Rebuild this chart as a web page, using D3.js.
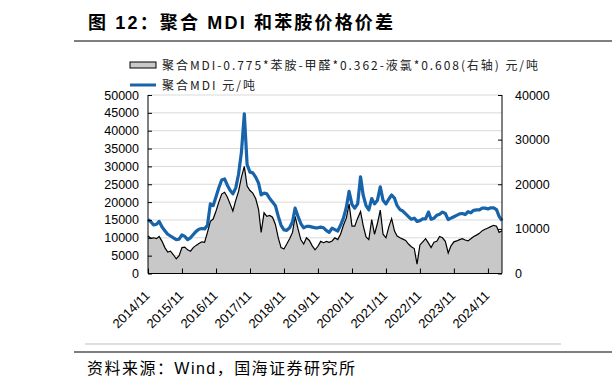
<!DOCTYPE html>
<html>
<head>
<meta charset="utf-8">
<script src="https://cdn.jsdelivr.net/npm/d3@7/dist/d3.min.js"></script>
<style>
  html, body { margin: 0; padding: 0; background: #fff; }
  svg { display: block; }
</style>
</head>
<body>
<svg id="chart" width="612" height="389"></svg>
<script>
// ---------------- DATA ----------------
const startMonth = "2014-11-01";   // first monthly observation
// 聚合MDI price, 元/吨 (left axis), monthly from 2014/11
const mdiPrice = [
  15100,14500,13600,13800,14600,13000,12000,11000,10500,10000,
  9500,9600,10800,10400,9500,10000,10900,11800,12400,12600,
  12500,13500,19500,19000,21500,24000,26200,26500,24800,23300,
  22300,24000,27800,34000,44700,30500,28400,28200,27000,25300,
  22000,22500,22300,21000,20000,19000,16000,13500,12200,12100,
  12800,14500,18300,16000,14000,12800,13200,13200,13000,12800,
  12800,13000,12800,12000,11500,12700,12300,11900,13500,15500,
  18500,23000,19300,18300,19500,27100,22000,19000,17800,21000,
  19500,20500,24300,20500,19500,20800,22000,21100,19000,17900,
  17500,16700,15900,15200,15500,14600,14800,15300,15300,17200,
  15200,15500,16300,16600,17200,16800,15100,15500,15900,16300,
  16700,16800,16500,17300,17000,17700,17800,17800,18300,18300,
  18100,18400,18400,17900,16000,14800
];
// 聚合MDI-0.775*苯胺-甲醛*0.362-液氯*0.608 spread, 元/吨 (right axis)
const spread = [
  8400,7900,8000,7800,8300,7200,5800,4800,5000,4200,
  3300,4000,5800,5900,5300,5000,5800,6300,6700,7100,
  7000,9200,11700,12200,14000,16000,17800,18200,17200,15600,
  14000,16400,18400,21600,24000,19600,18600,18000,16800,14400,
  9200,13600,12800,13000,12600,11000,8000,5800,5500,6600,
  7800,9200,12800,10000,7600,6600,8000,7400,6200,5300,
  6100,7200,6900,7200,7000,7300,8000,7600,8800,10800,
  12400,15600,10600,10600,12400,13900,10800,8200,7600,12100,
  8800,11200,14200,8800,8000,10400,12300,9500,8400,8000,
  7700,7400,6600,6000,5600,2100,6400,7100,7800,6800,
  5800,7000,7200,8300,8000,7200,4600,6200,7100,7300,
  7600,7800,7500,7300,7800,8300,8600,9000,9600,9900,
  10200,10500,10800,10600,9200,9600
];
const xTickLabels = ["2014/11","2015/11","2016/11","2017/11","2018/11","2019/11",
                     "2020/11","2021/11","2022/11","2023/11","2024/11"];
const leftTicks  = [0,5000,10000,15000,20000,25000,30000,35000,40000,45000,50000];
const rightTicks = [0,10000,20000,30000,40000];
const legendSpread = "聚合MDI-0.775*苯胺-甲醛*0.362-液氯*0.608(右轴) 元/吨";
const legendMdi = "聚合MDI 元/吨";
const titleText = "图 12：聚合 MDI 和苯胺价格价差";
const sourceText = "资料来源：Wind，国海证券研究所";

// ---------------- LAYOUT ----------------
const svg = d3.select("#chart");
const L = 148, R = 502, T = 95, B = 273.5;
const parse = d3.timeParse("%Y-%m-%d");
const t0 = parse(startMonth);
const rows = mdiPrice.map((v, i) => ({ date: d3.timeMonth.offset(t0, i), mdi: v, spread: spread[i] }));
const tickDates = xTickLabels.map(s => parse(s.replace("/", "-") + "-01"));

const x = d3.scaleTime().domain([parse("2014-11-01"), parse("2025-04-01")]).range([L, R]);
const yL = d3.scaleLinear().domain([0, 50000]).range([B, T]);
const yR = d3.scaleLinear().domain([0, 40000]).range([B, T]);

const cnFont = "'Noto Sans CJK SC', sans-serif";
const numFont = "'Liberation Sans', Arial, 'Noto Sans CJK SC', sans-serif";

// title
svg.append("text").attr("x", 88).attr("y", 29)
  .attr("font-family", numFont).attr("font-weight", "bold").attr("font-size", 18)
  .attr("textLength", 305).attr("lengthAdjust", "spacing")
  .attr("fill", "#000").text(titleText);
svg.append("line").attr("x1", 74).attr("x2", 612).attr("y1", 41).attr("y2", 41)
  .attr("stroke", "#7f7f7f").attr("stroke-width", 2);

// gridlines
svg.append("g").selectAll("line").data(leftTicks.filter(d => d > 0)).join("line")
  .attr("x1", L).attr("x2", R).attr("y1", d => yL(d)).attr("y2", d => yL(d))
  .attr("stroke", "#d9d9d9").attr("stroke-width", 1);

// area + spread line
const area = d3.area().x(d => x(d.date)).y0(yR(0)).y1(d => yR(d.spread));
svg.append("path").datum(rows).attr("d", area).attr("fill", "#c8c8c8");
svg.append("path").datum(rows)
  .attr("d", d3.line().x(d => x(d.date)).y(d => yR(d.spread)))
  .attr("fill", "none").attr("stroke", "#000").attr("stroke-width", 1.2);

// MDI line
svg.append("path").datum(rows)
  .attr("d", d3.line().x(d => x(d.date)).y(d => yL(d.mdi)))
  .attr("fill", "none").attr("stroke", "#1764ab").attr("stroke-width", 3.2)
  .attr("stroke-linejoin", "round");

// axes
const axL = svg.append("g").attr("transform", `translate(${L},0)`)
  .call(d3.axisLeft(yL).tickValues(leftTicks).tickFormat(d3.format("d")).tickSize(-4).tickPadding(9));
const axR = svg.append("g").attr("transform", `translate(${R},0)`)
  .call(d3.axisRight(yR).tickValues(rightTicks).tickFormat(d3.format("d")).tickSize(-4).tickPadding(13));
const axB = svg.append("g").attr("transform", `translate(0,${B})`)
  .call(d3.axisBottom(x).tickValues(tickDates).tickFormat((d, i) => xTickLabels[i]).tickSize(-5).tickPadding(0));
[axL, axR, axB].forEach(g => {
  g.select(".domain").attr("stroke", "#000").attr("stroke-width", 1);
  g.selectAll(".tick line").attr("stroke", "#000");
  g.selectAll("text").attr("font-family", numFont).attr("fill", "#000");
});
axL.selectAll("text").attr("font-size", 12.5);
axR.selectAll("text").attr("font-size", 12.5);
axB.selectAll("text").attr("font-size", 13)
  .attr("text-anchor", "end").attr("dy", null).attr("y", null)
  .attr("transform", "translate(2,23) rotate(-45)");
axL.select(".domain").attr("d", `M0,${T}V${B}`);
axR.select(".domain").attr("d", `M0,${T}V${B}`);
axB.select(".domain").attr("d", `M${L},0H${R}`);

// legend
svg.append("rect").attr("x", 130).attr("y", 62).attr("width", 26).attr("height", 6)
  .attr("fill", "#c8c8c8").attr("stroke", "#000").attr("stroke-width", 1);
svg.append("text").attr("x", 162).attr("y", 69.5)
  .attr("font-family", cnFont).attr("font-size", 12)
  .attr("textLength", 376).attr("lengthAdjust", "spacing")
  .attr("fill", "#222").text(legendSpread);
svg.append("line").attr("x1", 130).attr("x2", 156).attr("y1", 85).attr("y2", 85)
  .attr("stroke", "#1764ab").attr("stroke-width", 3);
svg.append("text").attr("x", 162).attr("y", 89.5)
  .attr("font-family", cnFont).attr("font-size", 12)
  .attr("textLength", 93).attr("lengthAdjust", "spacing")
  .attr("fill", "#222").text(legendMdi);

// footer
svg.append("line").attr("x1", 85).attr("x2", 561).attr("y1", 344).attr("y2", 344)
  .attr("stroke", "#bfbfbf").attr("stroke-width", 1);
svg.append("line").attr("x1", 74).attr("x2", 612).attr("y1", 352).attr("y2", 352)
  .attr("stroke", "#7f7f7f").attr("stroke-width", 2);
svg.append("text").attr("x", 87).attr("y", 374)
  .attr("font-family", numFont).attr("font-size", 16)
  .attr("textLength", 268).attr("lengthAdjust", "spacing")
  .attr("fill", "#000").text(sourceText);
</script>
</body>
</html>
